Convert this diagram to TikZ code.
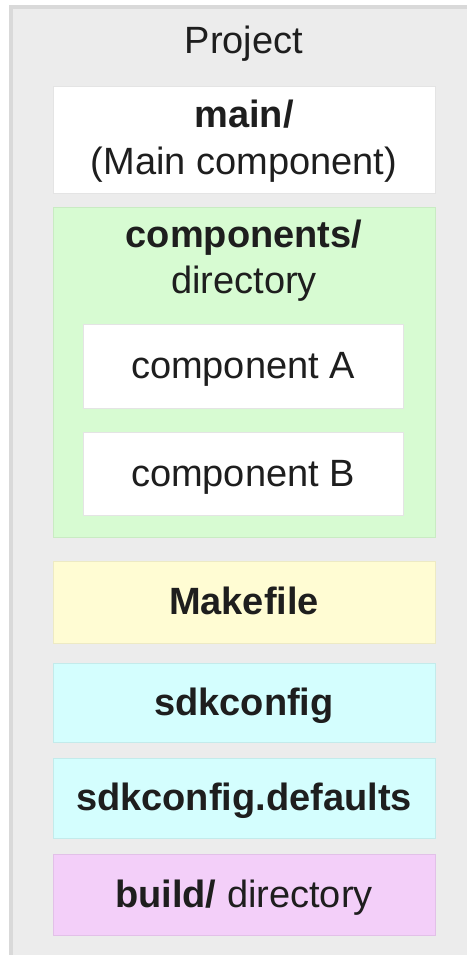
\documentclass[tikz,border=0pt]{standalone}
\usepackage{fontspec}
\setmainfont{Liberation Sans}
\definecolor{framecol}{HTML}{D9D9D9}
\definecolor{panelbg}{HTML}{ECECEC}
\definecolor{txt}{HTML}{1E1E1E}
\definecolor{greenfill}{HTML}{D7FBD2}
\definecolor{greenline}{HTML}{C9EBC3}
\definecolor{yellowfill}{HTML}{FFFCD3}
\definecolor{yellowline}{HTML}{EDEAC4}
\definecolor{cyanfill}{HTML}{D4FEFE}
\definecolor{cyanline}{HTML}{C3EBEB}
\definecolor{pinkfill}{HTML}{F3CFF9}
\definecolor{pinkline}{HTML}{E2C0E8}
\definecolor{whiteline}{HTML}{E4E4E4}
\tikzset{
  lbl/.style={font=\fontsize{38}{46}\selectfont, text=txt, inner sep=0pt, anchor=base},
  boxnode/.style={draw, line width=1pt, inner sep=0pt, minimum width=382pt},
  innerbox/.style={draw=whiteline, fill=white, line width=1pt, inner sep=0pt, minimum width=320pt},
  filetext/.style={font=\fontsize{38}{46}\selectfont, text=txt, text height=27pt, text depth=2pt}
}
\begin{document}
\begin{tikzpicture}[x=1pt,y=-1pt]
\useasboundingbox (0,0) rectangle (467,955);
\fill[framecol] (9,5) rectangle (467,955);
\fill[panelbg] (13,9) rectangle (467,955);
\node[lbl] (project) at (244,54) {Project};
% main box
\node[boxnode, draw=whiteline, fill=white, minimum height=106pt] (mainbox) at (244,140) {};
\node[lbl] (maintitle) at (244,128) {\textbf{main/}};
\node[lbl] (mainsub) at (244,174) {(Main component)};
% components box
\node[boxnode, draw=greenline, fill=greenfill, minimum height=330pt] (compbox) at (244,372) {};
\node[lbl] (comptitle) at (244,247) {\textbf{components/}};
\node[lbl] (compsub) at (244,293) {directory};
\node[innerbox, minimum height=84pt, filetext] (compA) at (243,366) {component A};
\node[innerbox, minimum height=83pt, filetext] (compB) at (243,473.5) {component B};
% files
\node[boxnode, draw=yellowline, fill=yellowfill, minimum height=82pt, filetext] (makefile) at (244,602) {\textbf{Makefile}};
\node[boxnode, draw=cyanline, fill=cyanfill, minimum height=79pt, filetext] (sdkconfig) at (244,702.5) {\textbf{sdkconfig}};
\node[boxnode, draw=cyanline, fill=cyanfill, minimum height=80pt, filetext] (defaults) at (244,798) {\textbf{sdkconfig.defaults}};
\node[boxnode, draw=pinkline, fill=pinkfill, minimum height=81pt, filetext] (build) at (244,894.5) {\textbf{build/} directory};
\end{tikzpicture}
\end{document}
